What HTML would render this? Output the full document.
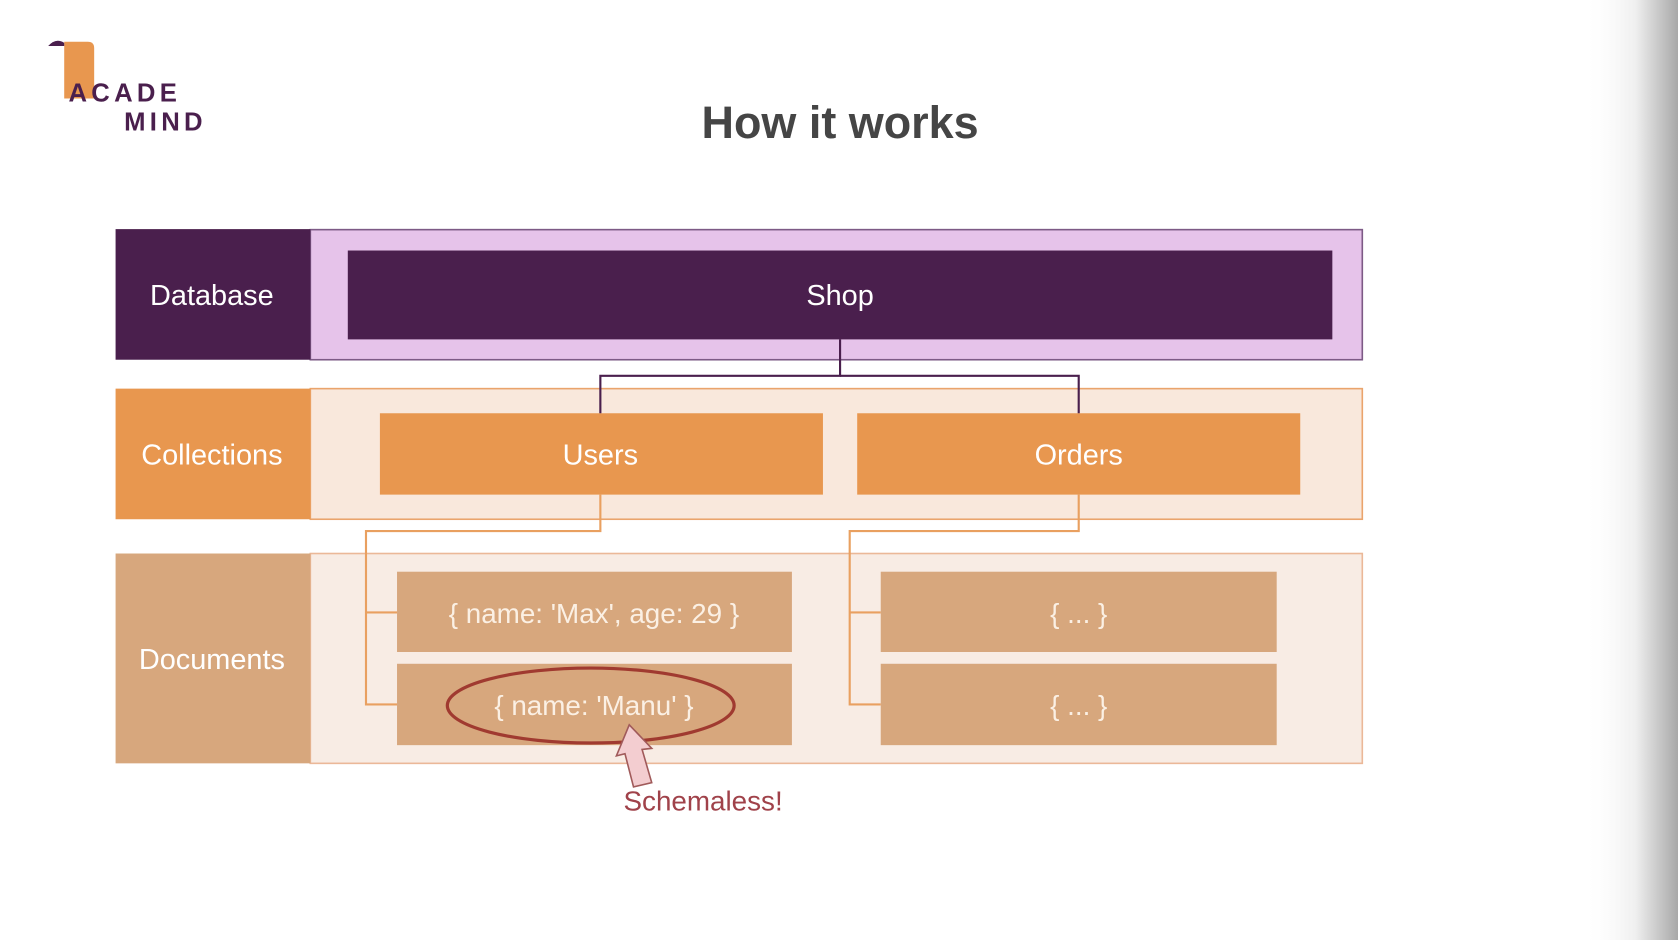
<!DOCTYPE html>
<html><head><meta charset="utf-8"><style>html,body{margin:0;padding:0;background:#fff;overflow:hidden}svg{display:block}</style></head><body>
<svg width="1678" height="940" viewBox="0 0 1568 878" preserveAspectRatio="none" xmlns="http://www.w3.org/2000/svg" font-family="Liberation Sans, sans-serif">
<defs><linearGradient id="g" x1="0" x2="1"><stop offset="0" stop-color="#fff" stop-opacity="0"/><stop offset="0.55" stop-color="#efefef"/><stop offset="1" stop-color="#a8a8a8"/></linearGradient></defs>
<rect width="1568" height="878" fill="#fff"/>
<rect x="1480" y="0" width="88" height="878" fill="url(#g)"/>
<!-- logo -->
<path d="M60 39 L82 39 Q88 39 88 45 L88 92 L60 92 Z" fill="#e8974f"/>
<path d="M45 43 Q52 35 60 40 L60 43 Z" fill="#4a1f4d"/>
<text x="64" y="95" font-size="24" font-weight="bold" fill="#4a1f4d" letter-spacing="4">ACADE</text>
<text x="116" y="122" font-size="24" font-weight="bold" fill="#4a1f4d" letter-spacing="4">MIND</text>
<text x="785" y="129" font-size="42" font-weight="bold" fill="#454545" text-anchor="middle">How it works</text>
<!-- database -->
<rect x="290" y="214.5" width="983" height="121.5" fill="#e6c3ea" stroke="#7d5a86" stroke-width="1.5"/>
<rect x="108" y="214" width="182" height="122" fill="#4a1f4d"/>
<rect x="325" y="234" width="920" height="83" fill="#4a1f4d"/>
<text x="198" y="285" font-size="27" fill="#fff" text-anchor="middle">Database</text>
<text x="785" y="285" font-size="27" fill="#fff" text-anchor="middle">Shop</text>
<!-- collections -->
<rect x="290" y="363" width="983" height="122" fill="#f9e8dc" stroke="#eaa46c" stroke-width="1.5"/>
<rect x="108" y="363" width="182" height="122" fill="#e8974f"/>
<rect x="355" y="386" width="414" height="76" fill="#e8974f"/>
<rect x="801" y="386" width="414" height="76" fill="#e8974f"/>
<polyline points="785,317 785,351 561,351 561,386" fill="none" stroke="#4a1f4d" stroke-width="2"/>
<polyline points="785,351 1008,351 1008,386" fill="none" stroke="#4a1f4d" stroke-width="2"/>
<text x="198" y="434" font-size="27" fill="#fff" text-anchor="middle">Collections</text>
<text x="561" y="434" font-size="27" fill="#fff" text-anchor="middle">Users</text>
<text x="1008" y="434" font-size="27" fill="#fff" text-anchor="middle">Orders</text>
<!-- documents -->
<rect x="290" y="517" width="983" height="196" fill="#f8ece4" stroke="#ebb898" stroke-width="1.5"/>
<rect x="108" y="517" width="182" height="196" fill="#d7a77d"/>
<g fill="none" stroke="#e9a060" stroke-width="2">
<polyline points="561,462 561,496 342,496 342,658 371,658"/>
<polyline points="342,572 371,572"/>
<polyline points="1008,462 1008,496 794,496 794,658 823,658"/>
<polyline points="794,572 823,572"/>
</g>
<rect x="371" y="534" width="369" height="75" fill="#d7a77d"/>
<rect x="371" y="620" width="369" height="76" fill="#d7a77d"/>
<rect x="823" y="534" width="370" height="75" fill="#d7a77d"/>
<rect x="823" y="620" width="370" height="76" fill="#d7a77d"/>
<text x="198" y="625" font-size="27" fill="#fff" text-anchor="middle">Documents</text>
<text x="555" y="582" font-size="26" fill="#fbf0e4" text-anchor="middle">{ name: 'Max', age: 29 }</text>
<text x="555" y="668" font-size="26" fill="#fbf0e4" text-anchor="middle">{ name: 'Manu' }</text>
<text x="1008" y="582" font-size="26" fill="#fbf0e4" text-anchor="middle">{ ... }</text>
<text x="1008" y="668" font-size="26" fill="#fbf0e4" text-anchor="middle">{ ... }</text>
<ellipse cx="552" cy="659" rx="134" ry="35" fill="none" stroke="#a03a30" stroke-width="3"/>
<polygon points="588,677 609,699 600,700 609,731 592,735 584,704 576,706" fill="#f3cdd0" stroke="#a05a5a" stroke-width="1.5"/>
<text x="657" y="757" font-size="26" fill="#a0424a" text-anchor="middle">Schemaless!</text>
</svg>
</body></html>
